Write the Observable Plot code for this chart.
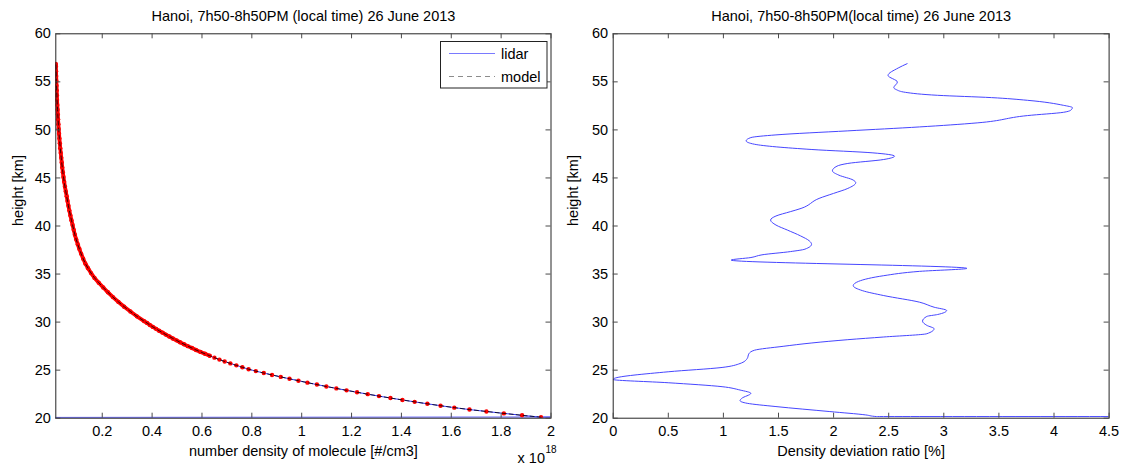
<!DOCTYPE html>
<html><head><meta charset="utf-8">
<script src="https://cdn.jsdelivr.net/npm/d3@7"></script>
<script src="https://cdn.jsdelivr.net/npm/@observablehq/plot@0.6"></script>
<style>
body{margin:0;background:#fff;}
#wrap{position:relative;width:1124px;height:465px;overflow:hidden;background:#fff;font-family:"Liberation Sans",Arial,Helvetica,sans-serif;}
#left,#right{position:absolute;top:0;}
#left{left:0}
#right{left:562px}
#legend{position:absolute;left:440px;top:41px;}
</style></head><body>
<div id="wrap"><div id="left"></div><div id="right"></div>
<svg id="legend" width="108" height="48" font-family="Liberation Sans, Arial, Helvetica, sans-serif" font-size="14.5">
<rect x="0.5" y="0.5" width="106.5" height="46.5" fill="#fff" stroke="#222"/>
<line x1="9" x2="55" y1="12.5" y2="12.5" stroke="#7a7aff" stroke-width="1.2"/>
<text x="61" y="12.5" dy="0.35em">lidar</text>
<line x1="9" x2="55" y1="35.5" y2="35.5" stroke="#8c8c8c" stroke-width="1.1" stroke-dasharray="5,4"/>
<text x="61" y="35.5" dy="0.35em">model</text>
</svg>
</div>
<script>
// ---- Left panel: number density (x 10^18 #/cm3) vs height (km)
const densityHeight = [20.1,20.3,20.5,20.7,20.9,21.1,21.3,21.5,21.7,21.9,22.1,22.3,22.5,22.7,22.9,23.1,23.3,23.5,23.7,23.9,24.1,24.3,24.5,24.7,24.9,25.1,25.3,25.5,25.7,25.9,26.1,26.3,26.5,26.7,26.9,27.1,27.3,27.5,27.7,27.9,28.1,28.3,28.5,28.7,28.9,29.1,29.3,29.5,29.7,29.9,30.1,
30.6,31.1,31.6,32.1,32.6,33.1,33.6,34.1,34.6,35.1,35.6,36.1,36.6,37.1,37.6,38.1,38.6,39.1,39.6,40.1,40.6,41.1,41.6,42.1,42.6,43.1,43.6,44.1,44.6,45.1,45.6,46.1,46.6,47.1,47.6,48.1,48.6,49.1,49.6,50.1,50.6,51.1,51.6,52.1,52.6,53.1,53.6,54.1,54.6,55.1,55.6,56.1,56.6,56.85];
const density = [1.960,1.884,1.811,1.741,1.673,1.612,1.557,1.504,1.453,1.404,1.356,1.310,1.265,1.222,1.180,1.139,1.099,1.061,1.023,0.987,0.951,0.916,0.881,0.848,0.816,0.787,0.762,0.738,0.714,0.691,0.670,0.650,0.631,0.612,0.594,0.576,0.560,0.543,0.528,0.512,0.498,0.483,0.469,0.455,0.442,0.428,0.416,0.403,0.391,0.380,0.368,
0.339,0.313,0.288,0.265,0.243,0.223,0.204,0.186,0.169,0.155,0.143,0.132,0.1235,0.1155,0.1084,0.1017,0.0956,0.0901,0.0855,0.0810,0.0765,0.0722,0.0681,0.0643,0.0607,0.0573,0.0537,0.0504,0.0473,0.0445,0.0419,0.0396,0.0375,0.0356,0.0335,0.0316,0.0299,0.0282,0.0267,0.0252,0.0240,0.0228,0.0218,0.0208,0.0198,0.0188,0.0181,0.0173,0.0166,0.0159,0.0153,0.0147,0.0140,0.0137];
// lowest lidar bins (outliers drawn along the bottom)
const lidarTailHeight = [20.08, 20.12];
const lidarTailDensity = [0, 2.1];

// ---- Right panel: density deviation ratio (%) vs height (km)
const devHeight = [56.89,56.44,55.67,54.98,54.39,54.19,53.91,53.60,53.36,53.08,52.56,52.32,52.04,51.83,51.49,50.73,50.31,49.90,49.48,49.20,48.86,48.51,47.96,47.61,47.27,46.92,46.51,46.23,45.74,45.29,44.78,44.50,43.91,43.39,42.87,41.83,41.49,41.04,40.62,40.10,39.58,38.97,38.45,38.10,37.59,37.34,37.00,36.72,36.45,35.59,35.28,34.83,34.24,33.79,33.28,32.76,32.07,31.55,31.21,30.79,30.59,30.10,29.66,29.31,28.79,28.45,28.17,27.83,27.48,27.07,26.72,26.21,25.69,25.28,24.83,24.14,24.03,23.69,23.28,22.93,22.59,22.07,21.83,21.55,21.21,20.69,20.34,20.17,20.17];
const devRatio = [2.667,2.586,2.494,2.579,2.546,2.569,2.651,2.944,3.433,3.759,4.085,4.167,4.151,4.085,3.759,3.303,2.781,2.129,1.477,1.249,1.206,1.281,1.803,2.357,2.553,2.455,2.129,2.031,1.989,2.048,2.178,2.201,2.129,1.999,1.868,1.705,1.607,1.477,1.428,1.477,1.58,1.70,1.78,1.80,1.74,1.61,1.35,1.25,1.07,3.21,2.781,2.455,2.227,2.178,2.260,2.455,2.781,2.912,3.026,2.944,2.846,2.807,2.846,2.912,2.846,2.455,2.129,1.803,1.542,1.281,1.232,1.216,1.151,0.988,0.499,0.01,0.0,0.499,0.988,1.151,1.249,1.167,1.151,1.216,1.477,1.966,2.292,2.39,4.9];

// ---- Axes ticks
const yTicks = [20,25,30,35,40,45,50,55,60];
const xTicksLeft = [0.2,0.4,0.6,0.8,1,1.2,1.4,1.6,1.8,2];
const xTicksRight = [0,0.5,1,1.5,2,2.5,3,3.5,4,4.5];

const titleLeft = "Hanoi, 7h50-8h50PM (local time) 26 June 2013";
const titleRight = "Hanoi, 7h50-8h50PM(local time) 26 June 2013";
const xLabelLeft = "number density of molecule [#/cm3]";
const xLabelRight = "Density deviation ratio [%]";
const yLabel = "height [km]";

const font = "'Liberation Sans', Arial, Helvetica, sans-serif";
const dens = densityHeight.map((h, i) => ({h, n: density[i]}));
const lidar = lidarTailHeight.map((h, i) => ({h, n: lidarTailDensity[i]})).concat(dens);
const dev = devHeight.map((h, i) => ({h, r: devRatio[i]}));

const tickColor = "#4a4a4a";
function frameTicks(xt, fw, fh) {
  return [
    Plot.ruleX(xt, {x: d => d, insetTop: fh - 5, stroke: tickColor}),
    Plot.ruleX(xt, {x: d => d, insetBottom: fh - 5, stroke: tickColor}),
    Plot.ruleY(yTicks, {y: d => d, insetRight: fw - 5, stroke: tickColor}),
    Plot.ruleY(yTicks, {y: d => d, insetLeft: fw - 5, stroke: tickColor})
  ];
}
const style = {fontFamily: font, fontSize: "14.5px", color: "#000", background: "transparent", overflow: "visible"};

const L = {ml: 55.3, mr: 11.5, mt: 33.3, mb: 47.3};
const leftPlot = Plot.plot({
  width: 562, height: 465,
  marginLeft: L.ml, marginRight: L.mr, marginTop: L.mt, marginBottom: L.mb,
  x: {domain: [0.0137, 2]},
  y: {domain: [20, 60]},
  style,
  marks: [
    Plot.line(lidar, {x: "n", y: "h", stroke: "#3b3bff", strokeWidth: 1, clip: true}),
    Plot.line(dens, {filter: d => d.h >= 26.4, x: "n", y: "h", stroke: "red", strokeWidth: 3.8, clip: true}),
    Plot.dot(dens, {x: "n", y: "h", r: 2.2, fill: "red", clip: true}),
    Plot.line(dens, {x: "n", y: "h", stroke: "#000", strokeWidth: 0.8, strokeDasharray: "4,3", clip: true}),
    Plot.frame({stroke: "#262626"}),
    ...frameTicks(xTicksLeft, 562 - L.ml - L.mr, 465 - L.mt - L.mb),
    Plot.axisX(xTicksLeft, {tickSize: 0, tickPadding: 8, tickFormat: d => String(d), label: null}),
    Plot.axisY(yTicks, {tickSize: 0, tickPadding: 5, tickFormat: d => String(d), label: null}),
    Plot.text([titleLeft], {text: d => d, frameAnchor: "top", dy: -17.5, lineAnchor: "middle"}),
    Plot.text([xLabelLeft], {text: d => d, frameAnchor: "bottom", dy: 33.5, lineAnchor: "middle"}),
    Plot.text([yLabel], {text: d => d, frameAnchor: "left", dx: -37, rotate: -90, lineAnchor: "middle"}),
    Plot.text(["x 10"], {text: d => d, frameAnchor: "bottom-right", dx: -6, dy: 40.5, textAnchor: "end", lineAnchor: "middle"}),
    Plot.text(["18"], {text: d => d, frameAnchor: "bottom-right", dx: -5.5, dy: 32, textAnchor: "start", lineAnchor: "middle", fontSize: 10})
  ]
});
document.getElementById("left").appendChild(leftPlot);

const R = {ml: 50.7, mr: 15.4, mt: 33.3, mb: 47.3};
const rightPlot = Plot.plot({
  width: 562, height: 465,
  marginLeft: R.ml, marginRight: R.mr, marginTop: R.mt, marginBottom: R.mb,
  x: {domain: [0, 4.5]},
  y: {domain: [20, 60]},
  style,
  marks: [
    Plot.line(dev, {x: "r", y: "h", stroke: "#4646ff", strokeWidth: 1, curve: "monotone-y", clip: true}),
    Plot.frame({stroke: "#262626"}),
    ...frameTicks(xTicksRight, 562 - R.ml - R.mr, 465 - R.mt - R.mb),
    Plot.axisX(xTicksRight, {tickSize: 0, tickPadding: 8, tickFormat: d => String(d), label: null}),
    Plot.axisY(yTicks, {tickSize: 0, tickPadding: 5, tickFormat: d => String(d), label: null}),
    Plot.text([titleRight], {text: d => d, frameAnchor: "top", dy: -17.5, lineAnchor: "middle"}),
    Plot.text([xLabelRight], {text: d => d, frameAnchor: "bottom", dy: 33.5, lineAnchor: "middle"}),
    Plot.text([yLabel], {text: d => d, frameAnchor: "left", dx: -39.5, rotate: -90, lineAnchor: "middle"})
  ]
});
document.getElementById("right").appendChild(rightPlot);
</script>
</body></html>
